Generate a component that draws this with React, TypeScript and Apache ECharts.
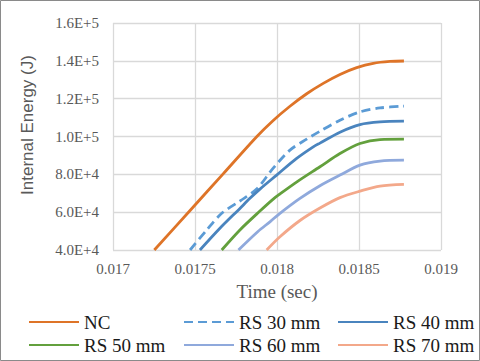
import React, { useEffect, useRef } from "react";
import * as echarts from "echarts";

const seriesNames = ["NC", "RS 30 mm", "RS 40 mm", "RS 50 mm", "RS 60 mm", "RS 70 mm"];

const ncData: [number, number][] = [
  [0.017252, 40000], [0.01747, 60900], [0.017673, 80400], [0.017876, 99900],
  [0.017977, 108500], [0.018079, 116000], [0.018181, 122600], [0.018282, 128100],
  [0.018384, 132800], [0.018486, 136400], [0.018587, 138700], [0.018689, 139700],
  [0.018774, 139900],
];
const rs30Data: [number, number][] = [
  [0.01747, 40000], [0.017571, 50550], [0.017663, 59400], [0.017774, 65900],
  [0.017876, 72200], [0.017977, 83300], [0.018079, 92800], [0.018181, 98600],
  [0.018262, 102800], [0.018384, 108600], [0.018506, 113000], [0.018628, 115100],
  [0.018774, 116100],
];
const rs40Data: [number, number][] = [
  [0.01753, 40000], [0.017652, 51500], [0.017774, 62000], [0.017835, 67300],
  [0.017896, 72200], [0.017998, 79600], [0.01812, 88400], [0.018221, 94500],
  [0.018262, 96500], [0.018384, 102300], [0.018506, 106300], [0.018628, 107700],
  [0.018774, 108100],
];
const rs50Data: [number, number][] = [
  [0.017663, 40000], [0.017774, 50600], [0.017896, 60600], [0.017977, 66900],
  [0.018018, 69600], [0.018128, 76400], [0.018262, 84000], [0.018384, 91000],
  [0.018506, 96300], [0.018628, 98400], [0.018774, 98600],
];
const rs60Data: [number, number][] = [
  [0.017765, 40000], [0.017884, 49800], [0.017957, 54900], [0.018018, 59400],
  [0.01814, 67300], [0.018262, 74000], [0.018384, 79600], [0.018506, 84900],
  [0.018628, 87000], [0.018774, 87500],
];
const rs70Data: [number, number][] = [
  [0.017937, 40000], [0.018018, 47000], [0.01814, 55600], [0.018262, 62200],
  [0.018384, 67700], [0.018506, 71100], [0.018628, 73800], [0.018774, 74700],
];

const allData = [ncData, rs30Data, rs40Data, rs50Data, rs60Data, rs70Data];
const colors = ["#DE7428", "#5B9BD5", "#4A84BE", "#63A03D", "#8FA9DC", "#F3A88A"];

const xMin = 0.017;
const xMax = 0.019;
const xStep = 0.0005;
const yMin = 40000;
const yMax = 160000;
const yStep = 20000;

export default function App() {
  const ref = useRef<HTMLDivElement>(null);
  useEffect(() => {
    document.body.style.margin = "0";
    if (!ref.current) return;
    const chart = echarts.init(ref.current, undefined, { renderer: "svg" });
    const serif = "Times New Roman, Liberation Serif, serif";
    const legendCol = (names: string[], left: number) => ({
      data: names,
      orient: "vertical",
      left,
      top: 312,
      padding: 0,
      itemGap: 3,
      itemWidth: 50,
      itemHeight: 14,
      itemStyle: { opacity: 0 },
      textStyle: { fontFamily: serif, fontSize: 19, color: "#1a1a1a", lineHeight: 20 },
    });
    chart.setOption({
      animation: false,
      backgroundColor: "#ffffff",
      textStyle: { fontFamily: serif },
      grid: { left: 113, right: 39, top: 23, bottom: 111, containLabel: false },
      xAxis: {
        type: "value",
        min: xMin,
        max: xMax,
        interval: xStep,
        name: "Time (sec)",
        nameLocation: "middle",
        nameGap: 32,
        nameTextStyle: { fontFamily: serif, fontSize: 19, color: "#595959" },
        axisLine: { show: false },
        axisTick: { show: false },
        axisLabel: {
          fontFamily: serif,
          fontSize: 15,
          color: "#595959",
          margin: 11,
          formatter: (v: number) => String(parseFloat(v.toFixed(5))),
        },
        splitLine: { show: true, lineStyle: { color: "#d9d9d9", width: 1.3 } },
      },
      yAxis: {
        type: "value",
        min: yMin,
        max: yMax,
        interval: yStep,
        axisLine: { show: false },
        axisTick: { show: false },
        axisLabel: {
          fontFamily: serif,
          fontSize: 15,
          color: "#595959",
          margin: 14,
          formatter: (v: number) => v.toExponential(1).toUpperCase(),
        },
        splitLine: { show: true, lineStyle: { color: "#d9d9d9", width: 1.3 } },
      },
      legend: [
        legendCol([seriesNames[0], seriesNames[3]], 28),
        legendCol([seriesNames[1], seriesNames[4]], 183),
        legendCol([seriesNames[2], seriesNames[5]], 337),
      ],
      graphic: [
        {
          type: "text",
          x: 27,
          y: 125,
          rotation: Math.PI / 2,
          style: {
            text: "Internal Energy (J)",
            fontFamily: "Liberation Sans, Arial, sans-serif",
            fontSize: 17,
            fill: "#595959",
            textAlign: "center",
            textVerticalAlign: "middle",
          },
        },
        {
          type: "rect",
          shape: { x: 0.5, y: 0.5, width: 479, height: 360 },
          style: { fill: "none", stroke: "#8a8a8a", lineWidth: 1 },
          silent: true,
          z: 100,
        },
      ],
      series: seriesNames.map((name, i) => ({
        name,
        type: "line",
        data: allData[i],
        symbol: "none",
        smooth: 0.3,
        clip: true,
        color: colors[i],
        lineStyle: {
          color: colors[i],
          width: 2.8,
          type: i === 1 ? [9, 5] : "solid",
          cap: "butt",
        },
      })),
    });
    return () => chart.dispose();
  }, []);
  return <div ref={ref} style={{ width: 480, height: 361 }} />;
}
